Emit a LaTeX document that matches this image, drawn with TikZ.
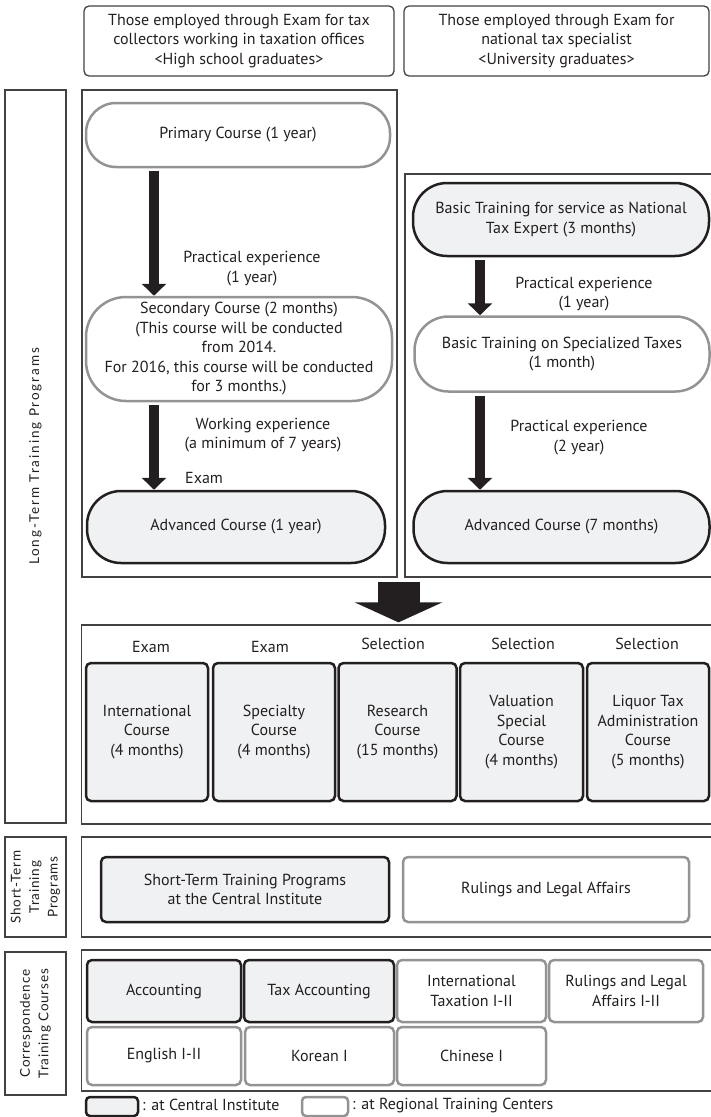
\documentclass[tikz,border=0pt]{standalone}
\usepackage{fontspec}
\setmainfont{PT Sans}
\newfontfamily\labfont[LetterSpace=6]{Lato}
\newfontfamily\widelabfont[LetterSpace=14]{Lato}
\usetikzlibrary{arrows.meta,calc}
\definecolor{dk}{HTML}{231F20}
\definecolor{gr}{HTML}{939393}
\definecolor{fl}{HTML}{F0F1F2}
\begin{document}
\begin{tikzpicture}[x=1pt,y=-1pt,
 txt/.style={inner sep=0pt, align=center, font=\fontsize{16}{19.5}\selectfont, text=dk},
 outerbox/.style={txt, draw=dk!85, line width=1.3pt},
 hdr/.style={outerbox, rounded corners=5pt},
 cen/.style={txt, draw=dk, line width=2.5pt, fill=fl},
 reg/.style={txt, draw=gr, line width=2.5pt, fill=white},
 flow/.style={-{Triangle[width=24pt,length=12pt]}, line width=10pt, draw=dk, shorten <=3pt},
 bigflow/.style={-{Triangle[width=87pt,length=20pt]}, line width=42pt, draw=dk, shorten <=4pt, shorten >=2pt},
 lab/.style={txt, font=\labfont\fontsize{13.5}{18.5}\selectfont, rotate=90},
]
\useasboundingbox (0,0) rectangle (711,1117);
% headers
\node[hdr, minimum width=310pt, minimum height=70pt] (h1) at (239,41) {Those employed through Exam for tax\\collectors working in taxation offices\\<High school graduates>};
\node[hdr, minimum width=305pt, minimum height=70pt] (h2) at (556.5,41) {Those employed through Exam for\\national tax specialist\\<University graduates>};
% section labels
\node[outerbox, minimum width=61pt, minimum height=733pt] (l1) at (35.5,456.5) {};
\node[lab, font=\widelabfont\fontsize{13.5}{18.5}\selectfont] (l1t) at (l1) {Long-Term Training Programs};
\node[outerbox, minimum width=61pt, minimum height=100pt] (l2) at (35.5,887) {};
\node[lab] (l2t) at (l2) {Short-Term\\Training\\Programs};
\node[outerbox, minimum width=61pt, minimum height=143pt] (l3) at (35.5,1023.5) {};
\node[lab] (l3t) at (l3) {Correspondence\\Training Courses};
% flow frames
\node[outerbox, minimum width=315pt, minimum height=487pt] (lb) at (239.5,333.5) {};
\node[outerbox, minimum width=308pt, minimum height=403pt] (rb) at (559,375.5) {};
% left flow
\node[reg, rounded corners=30pt, minimum width=304pt, minimum height=64pt] (prim) at (238,135) {Primary Course (1 year)};
\node[reg, rounded corners=40pt, minimum width=306pt, minimum height=104pt] (sec) at (239,349) {Secondary Course (2 months)\\(This course will be conducted\\from 2014.\\For 2016, this course will be conducted\\for 3 months.)};
\node[cen, rounded corners=34pt, minimum width=298pt, minimum height=72pt] (adv1) at (236,527) {Advanced Course (1 year)};
\node[txt] (t1) at (252,268.5) {Practical experience\\(1 year)};
\node[txt] (t2) at (263,435) {Working experience\\(a minimum of 7 years)};
\node[txt, anchor=west] (t3) at (185,478) {Exam};
% right flow
\node[cen, rounded corners=34pt, minimum width=296pt, minimum height=73pt] (basic) at (561,219.5) {Basic Training for service as National\\Tax Expert (3 months)};
\node[reg, rounded corners=34pt, minimum width=295pt, minimum height=75pt] (spec) at (562,354) {Basic Training on Specialized Taxes\\(1 month)};
\node[cen, rounded corners=34pt, minimum width=296pt, minimum height=72pt] (adv2) at (561.5,527) {Advanced Course (7 months)};
\node[txt] (t4) at (584,294) {Practical experience\\(1 year)};
\node[txt] (t5) at (579,437.5) {Practical experience\\(2 year)};
% arrows
\coordinate (axL) at (154,0);
\coordinate (axR) at (480,0);
\coordinate (axB) at (398.5,0);
\draw[flow] (prim.south -| axL) -- (sec.north -| axL);
\draw[flow] (sec.south -| axL) -- (adv1.north -| axL);
\draw[flow] (basic.south -| axR) -- (spec.north -| axR);
\draw[flow] (spec.south -| axR) -- (adv2.north -| axR);
% courses
\node[outerbox, minimum width=631pt, minimum height=199pt] (cb) at (397,724.5) {};
\draw[bigflow] (lb.south -| axB) -- (cb.north -| axB);
\node[cen, rounded corners=5pt, minimum width=122pt, minimum height=138pt] (c1) at (147,732) {International\\Course\\(4 months)};
\node[cen, rounded corners=5pt, minimum width=122pt, minimum height=138pt] (c2) at (274,732) {Specialty\\Course\\(4 months)};
\node[cen, rounded corners=5pt, minimum width=118pt, minimum height=138pt] (c3) at (397.5,732) {Research\\Course\\(15 months)};
\node[cen, rounded corners=5pt, minimum width=123pt, minimum height=138pt] (c4) at (521.5,732) {Valuation\\Special\\Course\\(4 months)};
\node[cen, rounded corners=5pt, minimum width=122pt, minimum height=138pt] (c5) at (648,732) {Liquor Tax\\Administration\\Course\\(5 months)};
\node[txt] (e1) at (151,647) {Exam};
\node[txt] (e2) at (270,647) {Exam};
\node[txt] (e3) at (393,644) {Selection};
\node[txt] (e4) at (523,644) {Selection};
\node[txt] (e5) at (647,644) {Selection};
% short-term
\node[outerbox, minimum width=631pt, minimum height=100pt] (sb) at (397,887) {};
\node[cen, rounded corners=5pt, minimum width=288pt, minimum height=65pt] (stc) at (245,889.5) {Short-Term Training Programs\\at the Central Institute};
\node[reg, rounded corners=5pt, minimum width=286pt, minimum height=65pt] (rul) at (546,889.5) {Rulings and Legal Affairs};
% correspondence
\node[outerbox, minimum width=631pt, minimum height=141pt] (crb) at (397,1020.5) {};
\node[cen, rounded corners=5pt, minimum width=154pt, minimum height=62pt] (acc) at (164,991) {Accounting};
\node[cen, rounded corners=5pt, minimum width=150pt, minimum height=62pt] (tax) at (319,991) {Tax Accounting};
\node[reg, rounded corners=5pt, minimum width=149pt, minimum height=62pt] (intl) at (471.5,991) {International\\Taxation I-II};
\node[reg, rounded corners=5pt, minimum width=154pt, minimum height=62pt] (rul2) at (626,991) {Rulings and Legal\\Affairs I-II};
\node[reg, rounded corners=5pt, minimum width=154pt, minimum height=58pt] (eng) at (164,1056) {English I-II};
\node[reg, rounded corners=5pt, minimum width=149pt, minimum height=58pt] (kor) at (319.5,1056) {Korean I};
\node[reg, rounded corners=5pt, minimum width=149pt, minimum height=58pt] (chi) at (471.5,1056) {Chinese I};
% legend
\node[cen, rounded corners=4pt, minimum width=52pt, minimum height=19pt] (lg1) at (112,1106.5) {};
\node[txt, anchor=west] (lg1t) at (142,1105) {: at Central Institute};
\node[reg, rounded corners=4pt, minimum width=46pt, minimum height=19pt] (lg2) at (325,1106.5) {};
\node[txt, anchor=west] (lg2t) at (352,1105) {: at Regional Training Centers};
\end{tikzpicture}
\end{document}
